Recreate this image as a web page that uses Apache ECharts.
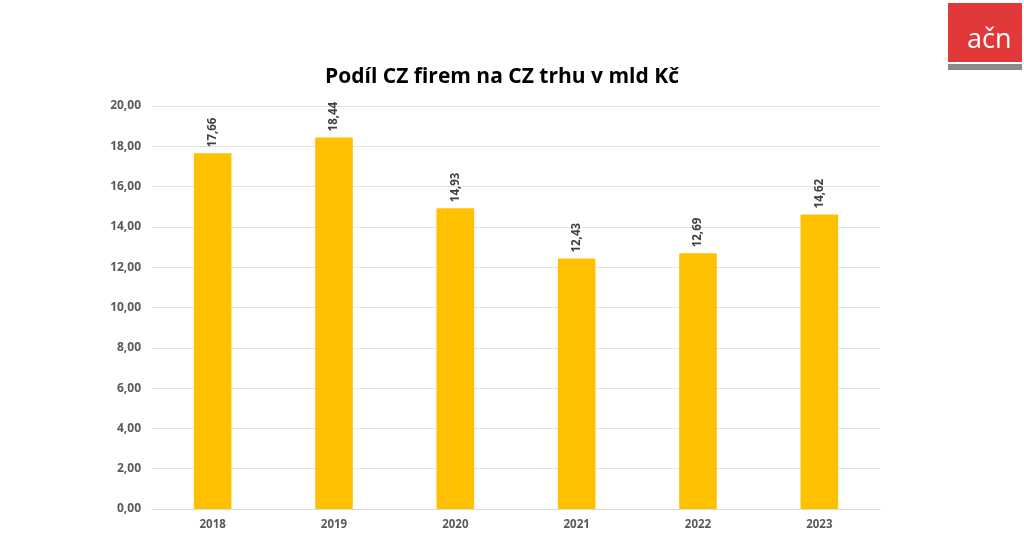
<!DOCTYPE html>
<html><head><meta charset="utf-8">
<script src="https://cdn.jsdelivr.net/npm/echarts@6/dist/echarts.min.js"></script>
<style>html,body{margin:0;padding:0;background:#fff}#c{width:1024px;height:560px}</style>
</head><body><div id="c"></div>
<script>
const categories = ['2018','2019','2020','2021','2022','2023'];
const values = [17.66, 18.44, 14.93, 12.43, 12.69, 14.62];
const titleText = 'Podíl CZ firem na CZ trhu v mld Kč';
const fmt = v => v.toFixed(2).replace('.', ',');
const chart = echarts.init(document.getElementById('c'));
chart.setOption({
  animation: false,
  backgroundColor: '#fff',
  title: {
    text: titleText, left: 497, top: 62, textAlign: 'center',
    textStyle: { fontFamily: 'Open Sans', fontSize: 21, fontWeight: 'bold', color: '#000' }
  },
  grid: { left: 152, right: 144, top: 106, bottom: 51 },
  xAxis: {
    type: 'category', data: categories,
    axisLine: { lineStyle: { color: '#d9d9d9' } },
    axisTick: { show: false },
    axisLabel: { color: '#595959', fontFamily: 'Open Sans', fontWeight: 'bold', fontSize: 11.5, margin: 10 }
  },
  yAxis: {
    type: 'value', min: 0, max: 20, interval: 2,
    axisLabel: { color: '#595959', fontFamily: 'Open Sans', fontWeight: 'bold', fontSize: 12, margin: 11, formatter: fmt },
    splitLine: { lineStyle: { color: '#e3e3e3' } }
  },
  series: [{
    type: 'bar', data: values, barWidth: '31%',
    itemStyle: { color: '#FFC000' },
    label: {
      show: true, position: 'top', rotate: 90, align: 'left', verticalAlign: 'middle', distance: 6,
      color: '#404040', fontFamily: 'Open Sans', fontWeight: 'bold', fontSize: 11.5,
      formatter: p => fmt(p.value)
    }
  }],
  graphic: [
    { type: 'rect', left: 948, top: 3, shape: { width: 74, height: 59 }, style: { fill: '#e1393a' } },
    { type: 'rect', left: 948, top: 64, shape: { width: 74, height: 6 }, style: { fill: '#8a8a8a' } },
    { type: 'text', left: 967, top: 27, style: { text: 'ačn', fill: '#fff', font: '27px "Open Sans"' } }
  ]
});
</script></body></html>
